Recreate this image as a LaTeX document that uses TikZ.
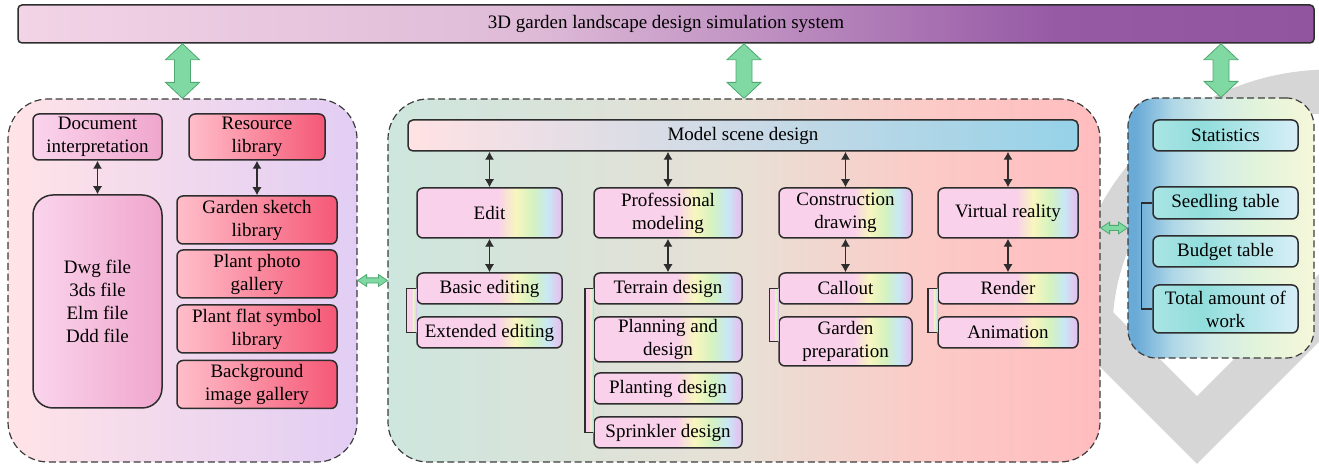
\documentclass[tikz,border=0pt]{standalone}
\usepackage{fontspec}
\setmainfont{Liberation Serif}
\usetikzlibrary{calc, arrows.meta}

% colours
\definecolor{boxline}{RGB}{45,45,45}
\definecolor{panelline}{RGB}{60,60,60}
\definecolor{markgray}{RGB}{214,214,214}
\definecolor{arrowgreen}{RGB}{128,217,162}
\definecolor{arrowedge}{RGB}{78,168,112}
\definecolor{pastelpink}{RGB}{249,209,234}
\definecolor{pastelyellow}{RGB}{248,246,190}
\definecolor{pastelgreen}{RGB}{212,242,192}
\definecolor{pastelblue}{RGB}{200,232,244}
\definecolor{pastellilac}{RGB}{226,196,240}
\definecolor{docleft}{RGB}{250,212,236}
\definecolor{docright}{RGB}{240,166,205}
\definecolor{libleft}{RGB}{255,190,202}
\definecolor{libright}{RGB}{245,88,118}
\definecolor{lpleft}{RGB}{255,227,231}
\definecolor{lpright}{RGB}{226,206,244}
\definecolor{sceneleft}{RGB}{255,226,228}
\definecolor{sceneright}{RGB}{150,210,232}
\definecolor{ttlA}{RGB}{242,212,230}
\definecolor{ttlB}{RGB}{222,186,215}
\definecolor{ttlC}{RGB}{150,90,165}
\definecolor{ttlD}{RGB}{145,85,160}
\definecolor{midA}{RGB}{205,230,222}
\definecolor{midB}{RGB}{232,224,213}
\definecolor{midC}{RGB}{252,202,199}
\definecolor{midD}{RGB}{255,188,190}
\definecolor{rgtA}{RGB}{105,170,215}
\definecolor{rgtB}{RGB}{175,215,230}
\definecolor{rgtC}{RGB}{210,235,232}
\definecolor{rgtD}{RGB}{226,244,218}
\definecolor{rgtE}{RGB}{246,247,218}
\definecolor{statA}{RGB}{170,228,228}
\definecolor{statB}{RGB}{145,222,220}
\definecolor{statC}{RGB}{216,238,248}

% shadings (the middle 25bp--75bp band covers the path)
\pgfdeclarehorizontalshading{rainbowfill}{100bp}{color(0bp)=(pastelpink); color(53bp)=(pastelpink); color(59bp)=(pastelyellow); color(65bp)=(pastelgreen); color(70bp)=(pastelblue); color(74bp)=(pastellilac); color(100bp)=(pastellilac)}
\pgfdeclarehorizontalshading{titlefill}{100bp}{color(0bp)=(ttlA); color(25bp)=(ttlA); color(45bp)=(ttlB); color(65bp)=(ttlC); color(75bp)=(ttlD); color(100bp)=(ttlD)}
\pgfdeclarehorizontalshading{midfill}{100bp}{color(0bp)=(midA); color(25bp)=(midA); color(50bp)=(midB); color(63bp)=(midC); color(75bp)=(midD); color(100bp)=(midD)}
\pgfdeclarehorizontalshading{rightfill}{100bp}{color(0bp)=(rgtA); color(27bp)=(rgtA); color(37bp)=(rgtB); color(47bp)=(rgtC); color(60bp)=(rgtD); color(75bp)=(rgtE); color(100bp)=(rgtE)}
\pgfdeclarehorizontalshading{statfill}{100bp}{color(0bp)=(statA); color(25bp)=(statA); color(42bp)=(statB); color(75bp)=(statC); color(100bp)=(statC)}

\begin{document}
\begin{tikzpicture}[x=0.5pt, y=-0.5pt, font=\fontsize{9.5}{11.5}\selectfont]
    % Style Definitions
    \tikzstyle{panel} = [rectangle, draw=panelline, line width=0.6pt, dash pattern=on 3.5pt off 1.8pt, inner sep=0pt]
    \tikzstyle{box} = [rectangle, draw=boxline, line width=0.75pt, rounded corners=3pt, inner sep=1pt, align=center]
    \tikzstyle{rainbow} = [box, shade, shading=rainbowfill]
    \tikzstyle{pinkbox} = [box, left color=docleft, right color=docright, minimum width=64.5pt]
    \tikzstyle{libbox} = [box, left color=libleft, right color=libright]
    \tikzstyle{statbox} = [box, shade, shading=statfill, minimum width=72.5pt]
    \tikzstyle{link} = [{Latex[length=4pt,width=4.6pt]}-{Latex[length=4pt,width=4.6pt]}, draw=boxline, line width=0.65pt]
    \tikzstyle{bracket} = [draw=boxline, line width=0.75pt]
    \tikzset{fatlink/.style n args={3}{fill=arrowgreen, draw=arrowedge, line width=0.4pt, to path={
        -- ($(\tikztostart)!#1!(\tikztotarget)!#2!90:(\tikztotarget)$)
        -- ($(\tikztostart)!#1!(\tikztotarget)!#3!90:(\tikztotarget)$)
        -- ($(\tikztotarget)!#1!(\tikztostart)!#3!-90:(\tikztostart)$)
        -- ($(\tikztotarget)!#1!(\tikztostart)!#2!-90:(\tikztostart)$)
        -- (\tikztotarget)
        -- ($(\tikztotarget)!#1!(\tikztostart)!#2!90:(\tikztostart)$)
        -- ($(\tikztotarget)!#1!(\tikztostart)!#3!90:(\tikztostart)$)
        -- ($(\tikztostart)!#1!(\tikztotarget)!#3!-90:(\tikztotarget)$)
        -- ($(\tikztostart)!#1!(\tikztotarget)!#2!-90:(\tikztotarget)$)
        -- cycle}}}

    \useasboundingbox (0,0) rectangle (1319,464);

    % Watermark
    \draw[draw=markgray, line width=22pt] (1330,331) ++(-185:239.5) arc[start angle=-185, end angle=-10, radius=239.5];
    \draw[draw=markgray, line width=24pt] (1070,303) -- (1197,430) -- (1400,227);

    % Panels
    \node (leftpanel) [panel, rounded corners=20pt, minimum width=174.5pt, minimum height=181.5pt, left color=lpleft, right color=lpright] at (182.5,280.5) {};
    \node (midpanel) [panel, rounded corners=20pt, minimum width=356pt, minimum height=181.5pt, shade, shading=midfill] at (744,280.5) {};
    \node (rightpanel) [panel, rounded corners=14pt, minimum width=93pt, minimum height=130pt, shade, shading=rightfill] at (1221,228) {};

    % Nodes
    \node (topbar) [box, rounded corners=2pt, minimum width=648pt, minimum height=19pt, shade, shading=titlefill] at (666,24) {3D garden landscape design simulation system};

    \node (docnode) [pinkbox, minimum height=23pt] at (97.5,137) {Document\\interpretation};
    \node (filenode) [pinkbox, rounded corners=10pt, minimum height=106.5pt] at (97.5,301.5) {Dwg file\\3ds file\\Elm file\\Ddd file};
    \node (resnode) [libbox, minimum width=68pt, minimum height=23pt] at (257,137) {Resource\\library};
    \node (sketch) [libbox, minimum width=80pt, minimum height=24pt] at (257,220) {Garden sketch\\library};
    \node (photo) [libbox, minimum width=80pt, minimum height=24pt] at (257,274) {Plant photo\\gallery};
    \node (symbol) [libbox, minimum width=80pt, minimum height=24pt] at (257,329) {Plant flat symbol\\library};
    \node (backdrop) [libbox, minimum width=80pt, minimum height=24pt] at (257,384.5) {Background\\image gallery};

    \node (scene) [box, rounded corners=2.5pt, minimum width=335pt, minimum height=15.5pt, left color=sceneleft, right color=sceneright] at (743,135.5) {Model scene design};
    \node (edit) [rainbow, minimum width=72.5pt, minimum height=25pt] at (489.5,213) {Edit};
    \node (prof) [rainbow, minimum width=74pt, minimum height=25pt] at (668,213) {Professional\\modeling};
    \node (constr) [rainbow, minimum width=66.5pt, minimum height=25pt] at (845.5,213) {Construction\\drawing};
    \node (vr) [rainbow, minimum width=70pt, minimum height=25pt] at (1008,213) {Virtual reality};

    \node (basic) [rainbow, minimum width=72.5pt, minimum height=15.5pt] at (489.5,288.5) {Basic editing};
    \node (extended) [rainbow, minimum width=72.5pt, minimum height=15.5pt] at (489.5,332.5) {Extended editing};
    \node (terrain) [rainbow, minimum width=74pt, minimum height=15.5pt] at (668,288.5) {Terrain design};
    \node (planning) [rainbow, minimum width=74pt, minimum height=22.5pt] at (668,339.5) {Planning and\\design};
    \node (planting) [rainbow, minimum width=74pt, minimum height=15.5pt] at (668,388.5) {Planting design};
    \node (sprinkler) [rainbow, minimum width=74pt, minimum height=15.5pt] at (668,432.5) {Sprinkler design};
    \node (callout) [rainbow, minimum width=66.5pt, minimum height=15.5pt] at (845.5,288.5) {Callout};
    \node (gardenprep) [rainbow, minimum width=66.5pt, minimum height=24.5pt] at (845.5,341.5) {Garden\\preparation};
    \node (render) [rainbow, minimum width=70pt, minimum height=15.5pt] at (1008,288.5) {Render};
    \node (animation) [rainbow, minimum width=70pt, minimum height=15.5pt] at (1008,332.5) {Animation};

    \node (stats) [statbox, minimum height=15.5pt] at (1225.5,135.5) {Statistics};
    \node (seedling) [statbox, minimum height=16pt] at (1225.5,203) {Seedling table};
    \node (budget) [statbox, minimum height=15.5pt] at (1225.5,251.5) {Budget table};
    \node (total) [statbox, minimum height=24pt] at (1225.5,309) {Total amount of\\work};

    % Arrows
    \draw[link] (docnode) -- (filenode);
    \draw[link] (resnode) -- (sketch);
    \draw[link] (scene.south -| edit) -- (edit);
    \draw[link] (scene.south -| prof) -- (prof);
    \draw[link] (scene.south -| constr) -- (constr);
    \draw[link] (scene.south -| vr) -- (vr);
    \draw[link] (edit) -- (basic);
    \draw[link] (prof) -- (terrain);
    \draw[link] (constr) -- (callout);
    \draw[link] (vr) -- (render);

    % Brackets
    \draw[bracket, shade, shading=rainbowfill] (basic.west) -- ++(-10,0) |- (extended.west);
    \draw[bracket, shade, shading=rainbowfill] (terrain.west) -- ++(-8.5,0) |- (sprinkler.west);
    \draw[bracket, shade, shading=rainbowfill] (callout.west) -- ++(-9,0) |- (gardenprep.west);
    \draw[bracket, shade, shading=rainbowfill] (render.west) -- ++(-9.5,0) |- (animation.west);
    \draw[bracket] (seedling.west) -- ++(-11,0) |- (total.west);

    % Green links between the blocks
    \coordinate (lefttop) at (topbar.south -| leftpanel.north);
    \coordinate (midtop) at (topbar.south -| midpanel.north);
    \coordinate (righttop) at (topbar.south -| rightpanel.north);
    \coordinate (midright) at (midpanel.east |- rightpanel.west);
    \draw[fatlink={8pt}{8.5pt}{4pt}] (lefttop) to (leftpanel.north);
    \draw[fatlink={8pt}{8.5pt}{4pt}] (midtop) to (midpanel.north);
    \draw[fatlink={8pt}{8.5pt}{4pt}] (righttop) to (rightpanel.north);
    \draw[fatlink={4.5pt}{3pt}{1.3pt}] (leftpanel.east) to (midpanel.west);
    \draw[fatlink={4.5pt}{3pt}{1.3pt}] (midright) to (rightpanel.west);

\end{tikzpicture}
\end{document}
